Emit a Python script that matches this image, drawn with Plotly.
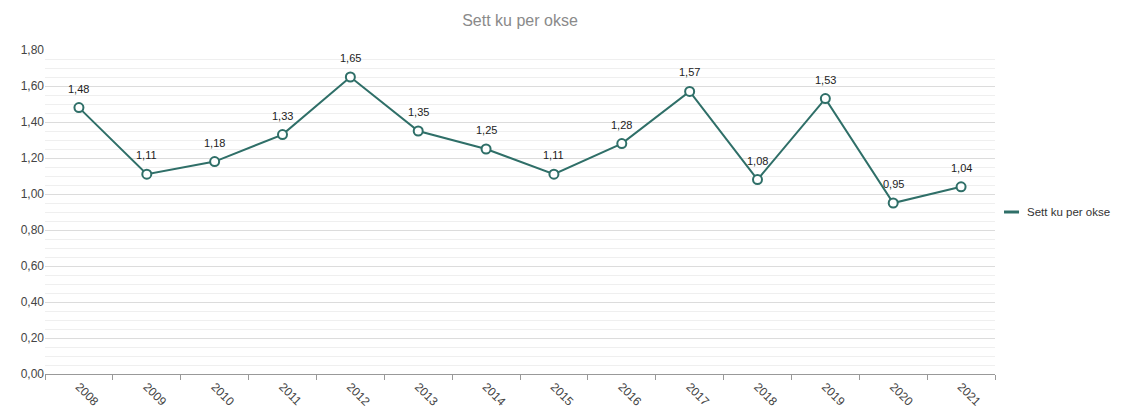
import plotly.graph_objects as go

years = ["2008", "2009", "2010", "2011", "2012", "2013", "2014", "2015",
         "2016", "2017", "2018", "2019", "2020", "2021"]
values = [1.48, 1.11, 1.18, 1.33, 1.65, 1.35, 1.25, 1.11, 1.28, 1.57, 1.08, 1.53, 0.95, 1.04]
series_name = "Sett ku per okse"
y_ticks = [0, 0.2, 0.4, 0.6, 0.8, 1.0, 1.2, 1.4, 1.6, 1.8]

color = "#2f6f68"

fig = go.Figure()
fig.add_trace(go.Scatter(
    x=years, y=values, name=series_name, showlegend=False,
    mode="lines+markers",
    line=dict(color=color, width=2),
    marker=dict(symbol="circle", size=9, color="white", line=dict(color=color, width=2)),
    cliponaxis=False,
))

# data labels
for i, v in enumerate(values):
    fig.add_annotation(x=i, y=v, xref="x", yref="y", text=f"{v:.2f}".replace(".", ","),
                       showarrow=False, yshift=19,
                       font=dict(family="Liberation Sans, Arial", size=11, color="#222"))

# legend (drawn in the right margin)
fig.add_shape(type="line", xref="paper", yref="paper", x0=1.0095, x1=1.0253, y0=0.5, y1=0.5,
              line=dict(color=color, width=3))
fig.add_annotation(xref="paper", yref="paper", x=1.0316, y=0.5, xanchor="left", yanchor="middle",
                   text=series_name, showarrow=False,
                   font=dict(family="Liberation Sans, Arial", size=11.5, color="#333"))

fig.update_layout(
    width=1114, height=406,
    margin=dict(l=37, r=127, t=42, b=40),
    paper_bgcolor="white", plot_bgcolor="white",
    separators=", ",
    font=dict(family="Liberation Sans, Arial", size=12, color="#444"),
    title=dict(text="Sett ku per okse", x=0.5, xref="paper", y=0.97, yanchor="middle",
               font=dict(size=16, color="#8a8a8a")),
    showlegend=False,
    xaxis=dict(type="category", categoryorder="array", categoryarray=years,
               range=[-0.5, len(years) - 0.5],
               tickangle=45, tickson="boundaries", ticks="outside",
               ticklen=5, tickcolor="#999", showgrid=False, showline=True, automargin=False,
               linecolor="#999", linewidth=1, tickfont=dict(size=12, color="#444")),
    yaxis=dict(range=[0, 1.8], tickvals=y_ticks, tickformat=".2f", showgrid=True,
               gridcolor="#dcdcdc", gridwidth=1, zeroline=False, showline=False,
               ticks="", automargin=False, tickfont=dict(size=12, color="#444"),
               minor=dict(dtick=0.05, showgrid=True, gridcolor="#efefef", gridwidth=1)),
)

fig.write_html("out.html")
